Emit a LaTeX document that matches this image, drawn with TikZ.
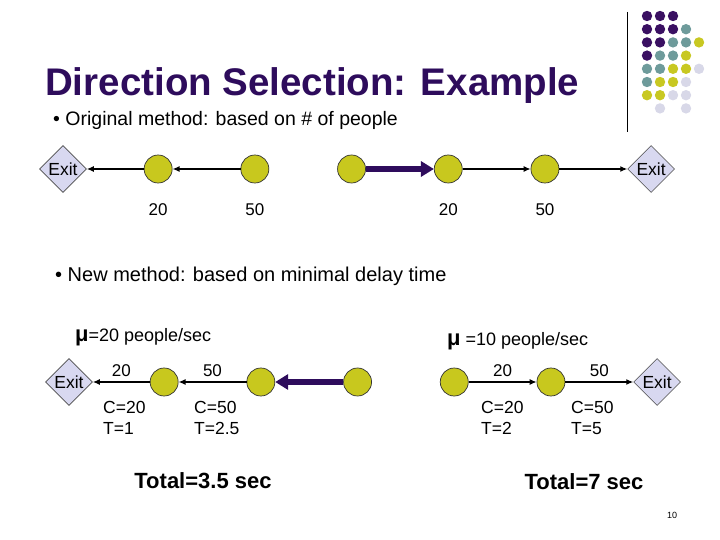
\documentclass[tikz,border=0pt]{standalone}
\usepackage{fontspec}
\setmainfont{Liberation Sans}
\usepackage{tikz}
\usetikzlibrary{arrows.meta,positioning,shapes.geometric}
\definecolor{Plum}{HTML}{2E0C5C}
\definecolor{Olive}{HTML}{C8C81E}
\definecolor{Lavender}{HTML}{D8D8F0}
\definecolor{DotP}{HTML}{3A1062}
\definecolor{DotT}{HTML}{6E9B9B}
\definecolor{DotY}{HTML}{C8C822}
\definecolor{DotL}{HTML}{D8D8E8}
\newcommand{\fsz}[1]{\fontsize{#1}{#1}\selectfont}
\tikzset{
  room/.style={circle, draw=black!80, line width=0.7pt, fill=Olive, minimum size=28pt, inner sep=0pt},
  exitbox/.style={diamond, draw=black!70, line width=0.6pt, fill=Lavender, minimum width=47pt, minimum height=47pt, inner sep=0pt, font=\fsz{17.5}},
  flow/.style={-{Latex[length=7pt,width=6pt]}, line width=1.3pt},
  jam/.style={-{Triangle[length=13pt,width=15pt]}, line width=6pt, draw=Plum},
  qlabel/.style={font=\fsz{17}, inner sep=1pt},
  costtext/.style={font=\fontsize{17.5}{21.5}\selectfont, align=left, anchor=north west, inner sep=0pt},
  ratetext/.style={font=\fsz{18}, anchor=base west, inner sep=0pt},
  totaltext/.style={font=\bfseries\fsz{22}, anchor=base, inner sep=0pt}
}

\begin{document}
\begin{tikzpicture}[x=1pt, y=-1pt, node distance=68pt]
  \useasboundingbox (0,0) rectangle (720,540);

  % corner decoration
  \draw[line width=0.8pt] (627,12) -- (627,132);
  \foreach \rowlist [count=\j] in {{DotP,DotP,DotP},{DotP,DotP,DotP,DotT},{DotP,DotP,DotT,DotT,DotY},{DotP,DotT,DotT,DotY},{DotT,DotT,DotY,DotY,DotL},{DotT,DotY,DotY,DotL},{DotY,DotY,DotL,DotL},{none,DotL,none,DotL}}
    \foreach \clr [count=\i] in \rowlist
      \path[fill=\clr] ({647+13*(\i-1)},{16+13.2*(\j-1)}) circle (5.2pt);

  \node[anchor=base west, text=Plum, font=\bfseries\fsz{38.5}, inner sep=0pt] (title) at (45,96) {Direction Selection: Example};
  \node[anchor=base west, font=\fsz{19.5}, inner sep=0pt] (orig) at (53,126) {\textbullet\ Original method: based on \# of people};

  % original method
  \node[exitbox] (exitL) at (63,169) {Exit};
  \node[room, right=57pt of exitL] (c1) {};
  \node[room, right=of c1] (c2) {};
  \node[room, right=of c2] (c3) {};
  \node[room, right=of c3] (c4) {};
  \node[room, right=of c4] (c5) {};
  \node[exitbox, right=of c5] (exitR) {Exit};

  \node[qlabel, below=19pt of c1] (n1) {20};
  \node[qlabel, below=19pt of c2] (n2) {50};
  \node[qlabel, below=19pt of c4] (n4) {20};
  \node[qlabel, below=19pt of c5] (n5) {50};

  \draw[flow] (c1) -- (exitL);
  \draw[flow] (c2) -- (c1);
  \draw[jam] (c3) -- (c4);
  \draw[flow] (c4) -- (c5);
  \draw[flow] (c5) -- (exitR);

  \node[anchor=base west, font=\fsz{20}, inner sep=0pt] (newm) at (55,281) {\textbullet\ New method: based on minimal delay time};

  % new method
  \node[ratetext] (rateL) at (75,341) {{\bfseries\fsz{22}μ}=20 people/sec};
  \node[ratetext] (rateR) at (447,345) {{\bfseries\fsz{22}μ} =10 people/sec};

  \node[exitbox] (exitB) at (69,382) {Exit};
  \node[room, right=57pt of exitB] (d1) {};
  \node[room, right=of d1] (d2) {};
  \node[room, right=of d2] (d3) {};
  \node[room, right=of d3] (d4) {};
  \node[room, right=of d4] (d5) {};
  \node[exitbox, right=of d5] (exitB2) {Exit};

  \draw[flow] (d1) -- node[qlabel, above=4pt] {20} (exitB);
  \draw[flow] (d2) -- node[qlabel, above=4pt] {50} (d1);
  \draw[jam] (d3) -- (d2);
  \draw[flow] (d4) -- node[qlabel, above=4pt] {20} (d5);
  \draw[flow] (d5) -- node[qlabel, above=4pt] {50} (exitB2);

  \node[costtext] (k1) at (103,401) {C=20\\T=1};
  \node[costtext] (k2) at (194,401) {C=50\\T=2.5};
  \node[costtext] (k4) at (481,401) {C=20\\T=2};
  \node[costtext] (k5) at (571,401) {C=50\\T=5};

  \node[totaltext] (totL) at (203,488) {Total=3.5 sec};
  \node[totaltext] (totR) at (584,489) {Total=7 sec};

  \node[font=\fsz{9}, inner sep=0pt] (page) at (672,515) {10};
\end{tikzpicture}
\end{document}
